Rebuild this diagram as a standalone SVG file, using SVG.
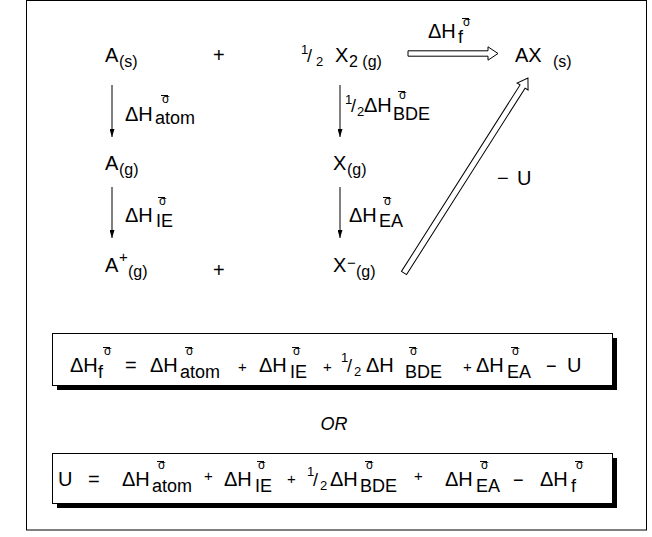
<svg xmlns="http://www.w3.org/2000/svg" width="652" height="537" viewBox="0 0 652 537">
<style>
text{font-family:"Liberation Sans",Arial,sans-serif;fill:#000}
.m{font-size:20px}
.s{font-size:16px}
.e{font-size:18px}
.f{font-size:13px}
.p{font-size:15px}
.o{font-size:12px}
.sl{font-size:18px}
.bar{stroke:#000;stroke-width:1;fill:none}
.thin{stroke:#000;stroke-width:1;fill:none}
.hollow{stroke:#000;stroke-width:1;fill:#fff}
.shadow{fill:#000}
.box{fill:#fff;stroke:#000;stroke-width:1}
</style>
<defs>
<marker id="ah" markerUnits="userSpaceOnUse" markerWidth="8" markerHeight="5" refX="8" refY="2.5" orient="auto">
<path d="M0,0 L8,2.5 L0,5 z" fill="#000"/>
</marker>
</defs>
<rect x="26.5" y="0.5" width="620" height="529.5" fill="#fff" stroke="#000" stroke-width="1"/>

<g id="connectors">
<line class="thin" x1="112" y1="85" x2="112" y2="137" marker-end="url(#ah)"/>
<line class="thin" x1="340" y1="85" x2="340" y2="137" marker-end="url(#ah)"/>
<line class="thin" x1="112" y1="187" x2="112" y2="238" marker-end="url(#ah)"/>
<line class="thin" x1="340" y1="187" x2="340" y2="238" marker-end="url(#ah)"/>
<polygon class="hollow" transform="translate(408,53.5)" points="0,-2.7 80,-2.7 80,-6.7 90,0 80,6.7 80,2.7 0,2.7"/>
<polygon class="hollow" transform="translate(404,273) rotate(-57.55)" points="0,-3 221,-3 221,-6.5 231,0 221,6.5 221,3 0,3"/>
</g>

<g id="A_s"><text class="m" x="105" y="62">A</text><text class="s" x="119" y="67">(s)</text></g>
<g id="plus1"><text class="m" x="213" y="62">+</text></g>
<g id="X2_g"><text class="f" x="301" y="54">1</text><text class="sl" x="307" y="62">/</text><text class="f" x="316" y="66">2</text><text class="m" x="335" y="62">X</text><text class="s" x="349" y="67">2 (g)</text></g>
<g id="AX_s"><text class="m" x="515" y="62">AX</text><text class="s" x="553" y="67">(s)</text></g>
<g id="lbl_f"><text class="m" x="428" y="38">ΔH</text><text class="e" x="458" y="43">f</text><text class="o" x="463" y="26">σ</text><line class="bar" x1="462" y1="18.5" x2="469" y2="18.5"/></g>

<g id="lbl_atom"><text class="m" x="125" y="121">ΔH</text><text class="e" x="155" y="124">atom</text><text class="o" x="162" y="103">σ</text><line class="bar" x1="161" y1="95.5" x2="168" y2="95.5"/></g>
<g id="lbl_bde"><text class="f" x="345" y="104">1</text><text class="sl" x="351" y="112">/</text><text class="f" x="357" y="116">2</text><text class="m" x="364" y="112">ΔH</text><text class="e" x="393" y="120">BDE</text><text class="o" x="399" y="99">σ</text><line class="bar" x1="398" y1="91.5" x2="405" y2="91.5"/></g>

<g id="A_g"><text class="m" x="105" y="170">A</text><text class="s" x="119" y="175">(g)</text></g>
<g id="X_g"><text class="m" x="333" y="170">X</text><text class="s" x="347" y="175">(g)</text></g>

<g id="lbl_ie"><text class="m" x="125" y="222">ΔH</text><text class="e" x="156" y="227">IE</text><text class="o" x="159" y="205">σ</text><line class="bar" x1="158" y1="197.5" x2="165" y2="197.5"/></g>
<g id="lbl_ea"><text class="m" x="349" y="222">ΔH</text><text class="e" x="379" y="227">EA</text><text class="o" x="384" y="205">σ</text><line class="bar" x1="383" y1="197.5" x2="390" y2="197.5"/></g>

<g id="Aplus_g"><text class="m" x="105" y="272">A</text><text class="p" x="119" y="262">+</text><text class="s" x="128" y="277">(g)</text></g>
<g id="plus2"><text class="m" x="213" y="277">+</text></g>
<g id="Xminus_g"><text class="m" x="333" y="272">X</text><text class="p" x="347" y="268">−</text><text class="s" x="356" y="277">(g)</text></g>
<g id="lbl_U"><text class="m" x="497" y="185">−</text><text class="m" x="517" y="185">U</text></g>

<g id="eq1">
<rect class="shadow" x="57" y="338" width="560" height="52"/>
<rect class="box" x="52.5" y="333.5" width="560" height="52"/>
<text class="m" x="70" y="372">ΔH</text><text class="e" x="98" y="378">f</text><text class="o" x="104" y="355">σ</text><line class="bar" x1="103" y1="347.5" x2="110" y2="347.5"/>
<text class="m" x="125" y="372">=</text>
<text class="m" x="150" y="372">ΔH</text><text class="e" x="180" y="378">atom</text><text class="o" x="186" y="355">σ</text><line class="bar" x1="185" y1="347.5" x2="192" y2="347.5"/>
<text class="p" x="238" y="372">+</text>
<text class="m" x="259" y="372">ΔH</text><text class="e" x="290" y="378">IE</text><text class="o" x="293" y="355">σ</text><line class="bar" x1="292" y1="347.5" x2="299" y2="347.5"/>
<text class="p" x="323" y="372">+</text>
<text class="f" x="341" y="362">1</text><text class="sl" x="347" y="372">/</text><text class="f" x="354" y="376">2</text>
<text class="m" x="366" y="372">ΔH</text><text class="e" x="405" y="378">BDE</text><text class="o" x="410" y="355">σ</text><line class="bar" x1="409" y1="347.5" x2="416" y2="347.5"/>
<text class="p" x="463" y="372">+</text>
<text class="m" x="476" y="372">ΔH</text><text class="e" x="507" y="378">EA</text><text class="o" x="512" y="355">σ</text><line class="bar" x1="511" y1="347.5" x2="518" y2="347.5"/>
<text class="sl" x="546" y="372">−</text>
<text class="m" x="567" y="372">U</text>
</g>

<g id="or"><text x="334" y="430" font-size="18" font-style="italic" text-anchor="middle">OR</text></g>

<g id="eq2">
<rect class="shadow" x="57" y="458" width="560" height="50"/>
<rect class="box" x="52.5" y="453.5" width="560" height="50"/>
<text class="m" x="58" y="486">U</text>
<text class="m" x="88" y="486">=</text>
<text class="m" x="122" y="486">ΔH</text><text class="e" x="152" y="492">atom</text><text class="o" x="158" y="469">σ</text><line class="bar" x1="157" y1="461.5" x2="164" y2="461.5"/>
<text class="p" x="204" y="481">+</text>
<text class="m" x="224" y="486">ΔH</text><text class="e" x="255" y="492">IE</text><text class="o" x="258" y="469">σ</text><line class="bar" x1="257" y1="461.5" x2="264" y2="461.5"/>
<text class="p" x="287" y="484">+</text>
<text class="f" x="307" y="476">1</text><text class="sl" x="313" y="486">/</text><text class="f" x="320" y="490">2</text>
<text class="m" x="330" y="486">ΔH</text><text class="e" x="360" y="492">BDE</text><text class="o" x="366" y="469">σ</text><line class="bar" x1="365" y1="461.5" x2="372" y2="461.5"/>
<text class="p" x="414" y="481">+</text>
<text class="m" x="445" y="486">ΔH</text><text class="e" x="476" y="492">EA</text><text class="o" x="481" y="469">σ</text><line class="bar" x1="480" y1="461.5" x2="487" y2="461.5"/>
<text class="sl" x="513" y="486">−</text>
<text class="m" x="540" y="486">ΔH</text><text class="e" x="571" y="492">f</text><text class="o" x="576" y="469">σ</text><line class="bar" x1="575" y1="461.5" x2="582" y2="461.5"/>
</g>
</svg>
